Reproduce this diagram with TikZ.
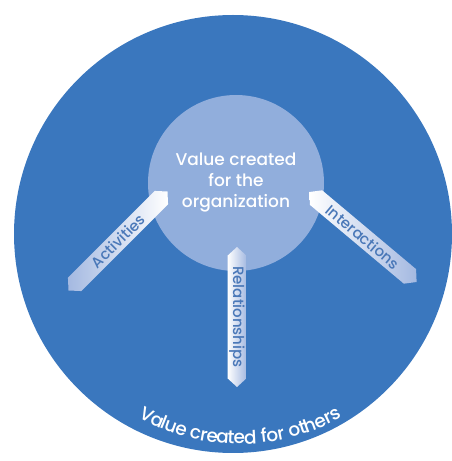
\documentclass[tikz,border=0pt]{standalone}
\usepackage{fontspec}
\setmainfont{Poppins Medium}
\usetikzlibrary{shapes.symbols}
\definecolor{outerblue}{HTML}{3A77BE}
\definecolor{innerblue}{HTML}{91AEDC}
\definecolor{labelblue}{HTML}{4A78B8}
\definecolor{tailblue}{HTML}{A4B9E1}
\tikzset{
    signpost/.style={signal, signal to=east and west, signal pointer angle=95,
        minimum height=19pt, minimum width=140pt, inner sep=0pt,
        text=labelblue, font=\fontsize{15}{15}\selectfont},
    rimletter/.style={text=white, font=\fontsize{18.5}{18.5}\selectfont,
        anchor=base, inner sep=0pt},
}
\begin{document}
\begin{tikzpicture}[x=1pt,y=1pt]
    \useasboundingbox (0,0) rectangle (451,461);
    \coordinate (ctr) at (233,227);
    \fill[outerblue] (ctr) circle (219);
    \node[circle, fill=innerblue, minimum size=176pt, inner sep=0pt,
        text=white, align=center, font=\fontsize{17}{21}\selectfont]
        (org) at (236,278) {Value created\\for the\\organization};

    \node[signpost, rotate=45, left color=tailblue, right color=white]
        (act) at (118,220) {Activities};
    \node[signpost, rotate=-90, left color=white, right color=tailblue]
        (rel) at (237,144) {Relationships};
    \node[signpost, rotate=-40, left color=white, right color=tailblue]
        (int) at (363,224) {Interactions};

    % text on the rim, one letter at a time
    \coordinate (low) at (240,225);
    \foreach \ch/\ang [count=\i] in {V/242.6, a/245.8, l/248.0, u/250.2, e/253.1,
            c/257.3, r/259.7, e/262.1, a/265.1, t/267.5, e/269.8, d/272.9,
            f/276.8, o/279.2, r/281.7,
            o/285.6, t/288.0, h/290.4, e/293.4, r/295.8, s/298.0}
        \node[rimletter, rotate=\ang+90] (rim\i) at ([shift={(\ang:208)}]low) {\ch};
\end{tikzpicture}
\end{document}
